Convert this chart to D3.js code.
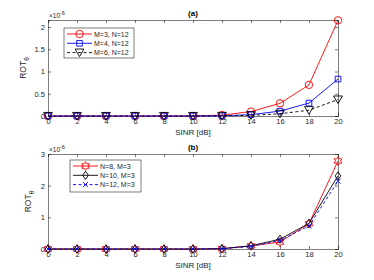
<!DOCTYPE html>
<html><head><meta charset="utf-8">
<script src="https://cdn.jsdelivr.net/npm/d3@7"></script>
<style>body{margin:0;background:#fff}svg{display:block;font-family:"Liberation Sans",Arial,sans-serif}</style>
</head><body><svg id="c" width="374" height="280"></svg>
<script>
const sinr = [0,2,4,6,8,10,12,14,16,18,20];
const xTicks = [0,2,4,6,8,10,12,14,16,18,20];
// panel (a): ROT x1e-6
const aM3 = [0,0,0,0,0,0,0.02,0.10,0.285,0.70,2.15];
const aM4 = [0,0,0,0,0,0,0.005,0.03,0.11,0.29,0.83];
const aM6 = [0,0,0,0,0,0,0.002,0.015,0.05,0.13,0.37];
const aTicks = [0,0.5,1,1.5,2];
// panel (b)
const bN8 = [0,0,0,0,0,0,0.01,0.10,0.22,0.80,2.78];
const bN10 = [0,0,0,0,0,0,0.01,0.10,0.31,0.81,2.31];
const bN12 = [0,0,0,0,0,0,0.01,0.08,0.27,0.73,2.14];
const bTicks = [0,1,2,3];
const aLabels = ["M=3, N=12","M=4, N=12","M=6, N=12"];
const bLabels = ["N=8, M=3","N=10, M=3","N=12, M=3"];

const svg = d3.select("#c");
const txt = "#262626", axc = "#262626";

const hexagram = {draw(ctx, size){
  const r = Math.sqrt(size)*0.62, ri = r*0.58;
  for(let i=0;i<12;i++){const a=-Math.PI/2+i*Math.PI/6;const rr=i%2?ri:r;
    const x=rr*Math.cos(a),y=rr*Math.sin(a); i?ctx.lineTo(x,y):ctx.moveTo(x,y);}
  ctx.closePath();}};
const triDown = {draw(ctx,size){const r=Math.sqrt(size)*0.6;
  ctx.moveTo(-r,-r*0.8);ctx.lineTo(r,-r*0.8);ctx.lineTo(0,r*0.9);ctx.closePath();}};
const diamond = {draw(ctx,size){const r=Math.sqrt(size)*0.55;
  ctx.moveTo(0,-r);ctx.lineTo(r*0.7,0);ctx.lineTo(0,r);ctx.lineTo(-r*0.7,0);ctx.closePath();}};
const xmark = {draw(ctx,size){const r=Math.sqrt(size)*0.4;
  ctx.moveTo(-r,-r);ctx.lineTo(r,r);ctx.moveTo(-r,r);ctx.lineTo(r,-r);}};
const sqr = {draw(ctx,size){const r=Math.sqrt(size)*0.42;ctx.rect(-r,-r,2*r,2*r);}};
const circ = {draw(ctx,size){const r=Math.sqrt(size)*0.5;ctx.moveTo(r,0);ctx.arc(0,0,r,0,2*Math.PI);}};

function panel(cfg){
  const {top,bottom,ymax,ticks,series,title,legend} = cfg;
  const left=48,right=338;
  const x=d3.scaleLinear().domain([0,20]).range([left,right]);
  const y=d3.scaleLinear().domain([0,ymax]).range([bottom,top]);
  const g=svg.append("g");
  g.append("rect").attr("x",left).attr("y",top).attr("width",right-left).attr("height",bottom-top)
    .attr("fill","#fff");
  const ax=d3.axisBottom(x).tickValues(xTicks).tickSize(-3).tickPadding(3);
  const ga=g.append("g").attr("transform",`translate(0,${bottom})`).call(ax);
  const gt=g.append("g").attr("transform",`translate(0,${top})`).call(d3.axisTop(x).tickValues(xTicks).tickSize(-3).tickFormat(""));
  const gl=g.append("g").attr("transform",`translate(${left},0)`).call(d3.axisLeft(y).tickValues(ticks).tickSize(-3).tickPadding(3).tickFormat(d=>d));
  const gr=g.append("g").attr("transform",`translate(${right},0)`).call(d3.axisRight(y).tickValues(ticks).tickSize(-3).tickFormat(""));
  [ga,gt,gl,gr].forEach(s=>{s.select(".domain").attr("stroke",axc).attr("stroke-width",0.6);
    s.selectAll(".tick line").attr("stroke",axc).attr("stroke-width",0.6);
    s.selectAll("text").attr("fill",txt).attr("font-size",7.5).attr("font-family","Liberation Sans, Arial, sans-serif");});
  g.append("text").attr("x",(left+right)/2).attr("y",top-4).attr("text-anchor","middle")
    .attr("font-size",8).attr("font-weight","bold").attr("fill","#000").text(title);
  g.append("text").attr("x",left+1).attr("y",top-2.5).attr("font-size",6.5).attr("fill",txt)
    .html('×10<tspan dy="-3" font-size="5.5">-6</tspan>');
  g.append("text").attr("x",(left+right)/2).attr("y",bottom+19).attr("text-anchor","middle")
    .attr("font-size",8).attr("fill",txt).text("SINR [dB]");
  const ylx=cfg.ylx, yly=(top+bottom)/2;
  g.append("text").attr("transform",`translate(${ylx},${yly}) rotate(-90)`).attr("text-anchor","middle")
    .attr("font-size",8.5).attr("fill",txt).html('ROT<tspan dy="3" font-size="6.5">θ</tspan>');
  const line=d3.line().x((d,i)=>x(sinr[i])).y(d=>y(d));
  series.forEach(s=>{
    g.append("path").datum(s.v).attr("d",line).attr("fill","none").attr("stroke",s.c)
      .attr("stroke-width",0.9).attr("stroke-dasharray",s.dash||null);
    g.selectAll(null).data(s.v).join("path")
      .attr("transform",(d,i)=>`translate(${x(sinr[i])},${y(d)})`)
      .attr("d",d3.symbol().type(s.sym).size(s.size||50)).attr("fill","none").attr("stroke",s.c).attr("stroke-width",0.9);
  });
  // legend
  const L=legend;
  g.append("rect").attr("x",L.x).attr("y",L.y).attr("width",L.w).attr("height",L.h)
    .attr("fill","#fff").attr("stroke","#262626").attr("stroke-width",0.6);
  series.forEach((s,i)=>{
    const yy=L.y+6+i*9.3;
    g.append("line").attr("x1",L.x+3).attr("x2",L.x+28).attr("y1",yy).attr("y2",yy)
      .attr("stroke",s.c).attr("stroke-width",0.9).attr("stroke-dasharray",s.dash||null);
    g.append("path").attr("transform",`translate(${L.x+15.5},${yy})`)
      .attr("d",d3.symbol().type(s.sym).size(s.size||50)).attr("fill","none").attr("stroke",s.c).attr("stroke-width",0.9);
    g.append("text").attr("x",L.x+30).attr("y",yy+2.6).attr("font-size",7).attr("fill",txt).text(L.labels[i]);
  });
}

panel({top:20,bottom:116,ymax:2.157,ticks:aTicks,title:"(a)",ylx:26,
  series:[{v:aM3,c:"#ff0000",sym:circ,size:55},{v:aM4,c:"#0000ff",sym:sqr,size:45},{v:aM6,c:"#000000",sym:triDown,size:55,dash:"3,2.5"}],
  legend:{x:64,y:28,w:70,h:30,labels:aLabels}});
panel({top:154,bottom:249,ymax:3,ticks:bTicks,title:"(b)",ylx:31,
  series:[{v:bN8,c:"#ff0000",sym:hexagram,size:50},{v:bN10,c:"#000000",sym:diamond,size:55},{v:bN12,c:"#0000ff",sym:xmark,size:40,dash:"3,2.5"}],
  legend:{x:70,y:160,w:71,h:32,labels:bLabels}});
</script></body></html>
